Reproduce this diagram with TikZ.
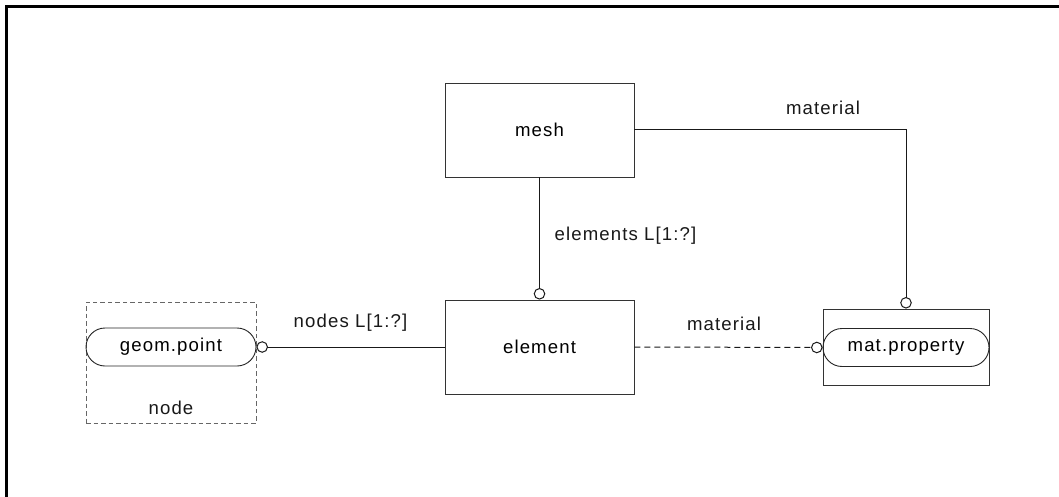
\documentclass[tikz,border=0pt]{standalone}
\usepackage{fontspec}
\setmainfont{Liberation Sans}[LetterSpace=6]
\usetikzlibrary{arrows.meta}
\begin{document}
\begin{tikzpicture}[x=1pt,y=-1pt,
  every node/.style={font=\fontsize{18.6}{22}\selectfont, inner sep=0pt},
  entity/.style={draw=black!80, line width=0.9pt, minimum width=189pt, minimum height=94pt},
  pill/.style={draw=black!85, line width=0.9pt, rounded corners=19pt, minimum width=170pt, minimum height=38pt},
  holder/.style={draw=black!80, line width=0.9pt},
  dashholder/.style={draw=black!60, line width=0.9pt, dash pattern=on 4.5pt off 3pt},
  rel/.style={line width=1pt, draw=black!90, -{Circle[open,length=11.5pt,width=11.5pt,line width=1pt]}},
  lbl/.style={text=black!90}]
\useasboundingbox (0,0) rectangle (1059,497);
\fill[white] (0,0) rectangle (1059,497);
% outer frame
\draw[line width=2.4pt] (6.5,500) -- (6.5,6.5) -- (1062,6.5);

% entities
\node[entity] (mesh) at (539.5,130) {mesh};
\node[entity] (element) at (539.5,347) {element};

% node type with geometric point
\node[dashholder, minimum width=170pt, minimum height=121pt] (nodebox) at (171,362.5) {};
\node[pill] (geom) at (171,347) {geom.point};
\node[lbl] (nodelbl) at (171,408) {node};

% material property holder
\node[holder, minimum width=166pt, minimum height=76pt] (matbox) at (906,347) {};
\node[pill, minimum width=166pt] (matprop) at (906,347.5) {mat.property};

% relations
\draw[rel] (mesh.south) -- (element.north);
\draw[rel] (mesh.east) -| (matbox.north);
\draw[rel] (element.west) -- (geom.east);
\draw[rel, dash pattern=on 6pt off 4pt] (element.east) -- (matprop.west);

% relation labels
\node[lbl] (lmat1) at (823,108) {material};
\node[lbl] (lelem) at (625.5,236) {elements L[1:?]};
\node[lbl] (lnodes) at (350.5,323) {nodes L[1:?]};
\node[lbl] (lmat2) at (724,324) {material};
\end{tikzpicture}
\end{document}
